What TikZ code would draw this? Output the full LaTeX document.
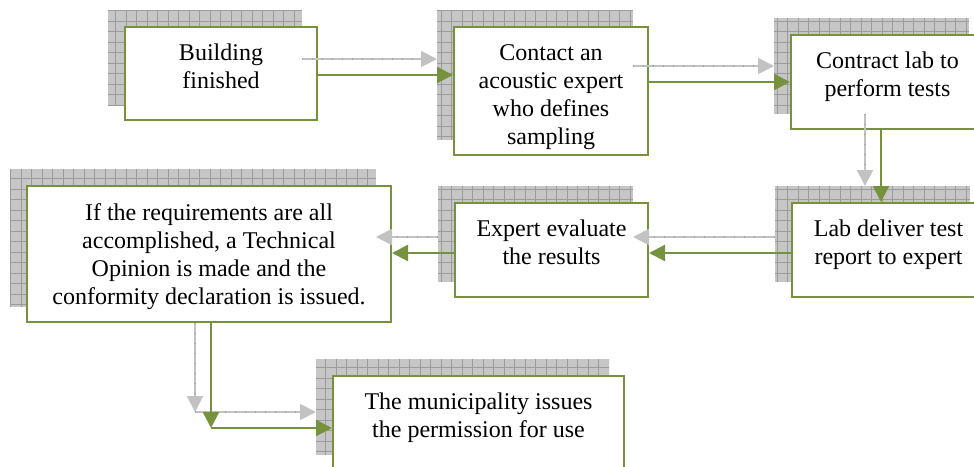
\documentclass[tikz,border=0pt]{standalone}
\usepackage{fontspec}
\setmainfont{Liberation Serif}
\usetikzlibrary{arrows.meta,calc,backgrounds}

\definecolor{boxgreen}{RGB}{118,146,60}
\definecolor{shadefill}{RGB}{198,198,198}
\definecolor{shadegrid}{RGB}{155,155,155}
\definecolor{ghost}{RGB}{194,194,194}
\definecolor{ghosttick}{RGB}{165,165,165}

\tikzset{
  stepbox/.style={rectangle, draw=boxgreen, line width=2pt, fill=white, inner sep=0pt},
  boxtext/.style={anchor=north, inner sep=0pt, align=center,
                  font=\fontsize{24}{28}\selectfont},
  flow/.style={draw=boxgreen, line width=2.2pt, -{Triangle[length=16pt,width=16pt]}},
  ghostflow/.style={draw=ghost, line width=1.8pt, -{Triangle[length=16pt,width=16pt,fill=ghost]}},
  ghostticks/.style={draw=ghosttick, line width=1.8pt, dash pattern=on 0.8pt off 9.2pt, shorten >=16pt},
}

% shifted grey copy of a connector plus its green version
\newcommand\flowpair[2]{%
  \draw[ghostflow] ($#1+(-16,-16)$) -- ($#2+(-16,-16)$);
  \draw[ghostticks] ($#1+(-16,-16)$) -- ($#2+(-16,-16)$);
  \draw[flow] #1 -- #2;
}

\begin{document}
\begin{tikzpicture}[x=1pt,y=-1pt]
\path[use as bounding box] (0,0) rectangle (974,466);

% boxes
\node[stepbox, minimum width=192pt, minimum height=93pt]  (b1) at (221,73.5) {};
\node[stepbox, minimum width=194pt, minimum height=128pt] (b2) at (551,91) {};
\node[stepbox, minimum width=193pt, minimum height=94pt]  (b3) at (887.5,82) {};
\node[stepbox, minimum width=193pt, minimum height=94pt]  (b4) at (888.5,250) {};
\node[stepbox, minimum width=193pt, minimum height=94pt]  (b5) at (551.5,250) {};
\node[stepbox, minimum width=364pt, minimum height=136pt] (b6) at (209,254) {};
\node[stepbox, minimum width=291pt, minimum height=94pt]  (b7) at (478.5,423) {};

% checkered drop shadows
\begin{scope}[on background layer]
  \foreach \b in {b1,b2,b3,b4,b5,b6,b7}{
    \begin{scope}
      \clip ($(\b.north west)+(-16,-16)$) rectangle ($(\b.south east)+(-16,-16)$);
      \fill[shadefill] ($(\b.north west)+(-16,-16)$) rectangle ($(\b.south east)+(-16,-16)$);
      \draw[shadegrid, line width=0.8pt, step=10.5pt]
        ($(\b.north west)+(-16,-16)$) grid ($(\b.south east)+(-16,-16)$);
    \end{scope}
  }
\end{scope}

% texts
\node[boxtext] (t1) at ([yshift=-14.5pt]b1.north) {\strut Building\\finished};
\node[boxtext] (t2) at ([yshift=-14.5pt]b2.north) {\strut Contact an\\acoustic expert\\who defines\\sampling};
\node[boxtext] (t3) at ([yshift=-14.5pt]b3.north) {\strut Contract lab to\\perform tests};
\node[boxtext] (t4) at ([yshift=-14.5pt]b4.north) {\strut Lab deliver test\\report to expert};
\node[boxtext] (t5) at ([yshift=-14.5pt]b5.north) {\strut Expert evaluate\\the results};
\node[boxtext] (t6) at ([yshift=-16pt]b6.north) {\strut If the requirements are all\\accomplished, a Technical\\Opinion is made and the\\conformity declaration is issued.};
\node[boxtext] (t7) at ([yshift=-14.5pt]b7.north) {\strut The municipality issues\\the permission for use};

% connectors
\flowpair{([yshift=-1.5pt]b1.east)}{([yshift=-1.5pt]b1.east -| b2.west)}
\flowpair{(b2.east |- b3.west)}{(b3.west)}
\flowpair{([xshift=-6.5pt]b3.south)}{([xshift=-6.5pt]b3.south |- b4.north)}
\flowpair{([yshift=-3pt]b4.west)}{([yshift=-3pt]b4.west -| b5.east)}
\flowpair{([yshift=-3pt]b5.west)}{([yshift=-3pt]b5.west -| b6.east)}

\coordinate (bend) at ($(b6.south)+(2,105)$);
\draw[ghostflow] ($(b6.south -| bend)+(-16,0)$) -- ($(bend)+(-16,-16)$);
\draw[ghostticks] ($(b6.south -| bend)+(-16,0)$) -- ($(bend)+(-16,-16)$);
\draw[ghostflow] ($(bend)+(-16,-16)$) -- ($(bend -| b7.west)+(-16,-16)$);
\draw[ghostticks] ($(bend)+(-16,-16)$) -- ($(bend -| b7.west)+(-16,-16)$);
\draw[flow] (b6.south -| bend) -- (bend);
\draw[flow] (bend) -- (bend -| b7.west);
\end{tikzpicture}
\end{document}
